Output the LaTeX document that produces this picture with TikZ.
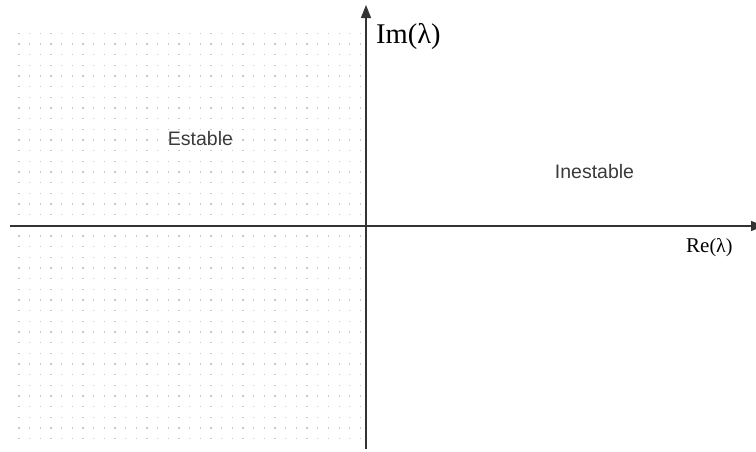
\documentclass[tikz,border=0pt]{standalone}
\usepackage{fontspec}
\setmainfont{Liberation Serif}
\newfontfamily\regionfont{Liberation Sans}
\usetikzlibrary{arrows.meta}
\definecolor{axisgray}{HTML}{333333}
\definecolor{dotgray}{HTML}{C8C8C8}
\definecolor{textgray}{HTML}{3A3A3A}

\begin{document}
\begin{tikzpicture}[
			x=1pt, y=-1pt,
			axis/.style={-{Triangle[length=13pt, width=10pt]}, line width=1.3pt, draw=axisgray, fill=axisgray},
			region/.style={font=\regionfont\fontsize{19.5}{22}\selectfont, text=textgray, inner sep=0pt},
			axislabel/.style={text=black, inner sep=0pt, anchor=base west},
			line cap=butt
			]
			\useasboundingbox (0,0) rectangle (756,451);
			\clip (0,0) rectangle (756,451);
			
			% Dot grid
			\foreach \i in {0,...,32}
			\foreach \j in {0,...,38}
			\fill[dotgray] ({19+10.67*\i-0.6},{33.3+10.67*\j-0.6}) rectangle ++(1.2,1.2);
			
			% Axes
			\coordinate (W) at (10,226);
			\coordinate (E) at (764,226);
			\coordinate (S) at (366,449);
			\coordinate (N) at (366,5);
			\draw[axis] (W) -- (E);
			\draw[axis] (S) -- (N);
			
			% Labels
			\node[axislabel, font=\fontsize{28.5}{31}\selectfont] (im) at (376,43.3) {Im(λ)};
			\node[axislabel, font=\fontsize{21}{24}\selectfont] (re) at (686,252.7) {Re{\fontsize{20}{22}\selectfont(λ)}};
			\node[region] (stable) at (200.5,139) {Estable};
			\node[region] (unstable) at (594.5,172) {Inestable};
		\end{tikzpicture}
\end{document}
